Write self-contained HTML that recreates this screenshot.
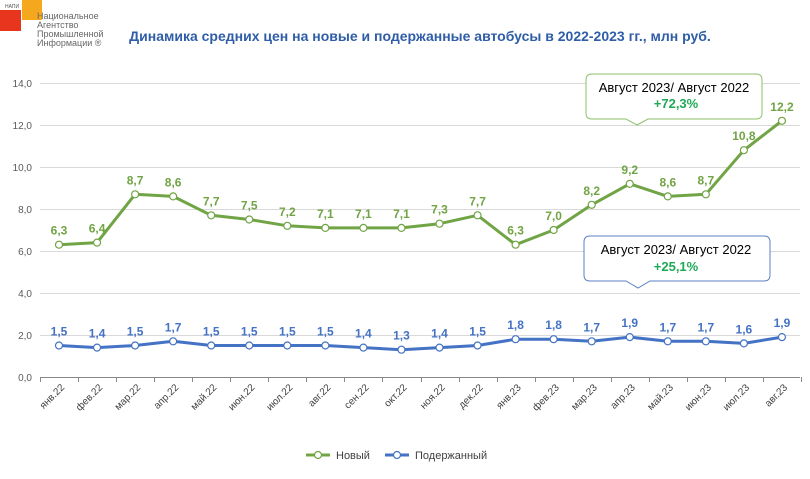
<!DOCTYPE html>
<html><head><meta charset="utf-8"><style>
body{margin:0;background:#fff;}
svg{display:block;font-family:"Liberation Sans",Arial,sans-serif;}
</style></head><body>
<svg width="810" height="479" viewBox="0 0 810 479">
<rect x="0" y="0" width="810" height="479" fill="#fff"/>
<!-- logo -->
<rect x="0" y="10" width="21" height="21" fill="#e8361e"/>
<rect x="22" y="0" width="20" height="20" fill="#f5a81d"/>
<text x="5" y="8" font-size="5" fill="#555">НАПИ</text>
<text x="37" y="19" font-size="9" fill="#666">Национальное</text>
<text x="37" y="28" font-size="9" fill="#666">Агентство</text>
<text x="37" y="37" font-size="9" fill="#666">Промышленной</text>
<text x="37" y="46" font-size="9" fill="#666">Информации ®</text>
<text x="420" y="41" font-size="14" font-weight="bold" fill="#2f5da8" text-anchor="middle">Динамика средних цен на новые и подержанные автобусы в 2022-2023 гг., млн руб.</text>
<g stroke="#d9d9d9" stroke-width="1">
<line x1="40" x2="800" y1="83.5" y2="83.5"/><line x1="40" x2="800" y1="125.5" y2="125.5"/>
<line x1="40" x2="800" y1="167.5" y2="167.5"/><line x1="40" x2="800" y1="209.5" y2="209.5"/>
<line x1="40" x2="800" y1="251.5" y2="251.5"/><line x1="40" x2="800" y1="293.5" y2="293.5"/>
<line x1="40" x2="800" y1="335.5" y2="335.5"/>
</g>
<line x1="40" x2="800" y1="377.5" y2="377.5" stroke="#888"/>
<g font-size="10" fill="#595959" text-anchor="end">
<text x="32" y="87">14,0</text><text x="32" y="129">12,0</text><text x="32" y="171">10,0</text>
<text x="32" y="213">8,0</text><text x="32" y="255">6,0</text><text x="32" y="297">4,0</text>
<text x="32" y="339">2,0</text><text x="32" y="381">0,0</text>
</g>
<g id="ticks" stroke="#888"></g>
<g id="xl" font-size="10" fill="#404040" text-anchor="end"></g>
<polyline id="pn" fill="none" stroke="#70a444" stroke-width="3" stroke-linejoin="round"/>
<polyline id="pu" fill="none" stroke="#4472c4" stroke-width="3" stroke-linejoin="round"/>
<g id="mk"></g>
<g id="lb" font-size="12" font-weight="bold" text-anchor="middle"></g>
<!-- callouts -->
<path d="M592,74 H756 Q762,74 762,80 V113 Q762,119 756,119 H648 L637,125 L626,119 H592 Q586,119 586,113 V80 Q586,74 592,74 Z" fill="#fff" stroke="#8cc26a"/>
<text x="674" y="92" font-size="13" fill="#000" text-anchor="middle">Август 2023/ Август 2022</text>
<text x="676" y="108" font-size="13" font-weight="bold" fill="#1eaa55" text-anchor="middle">+72,3%</text>
<path d="M590,236 H764 Q770,236 770,242 V275 Q770,281 764,281 H650 L638,288 L626,281 H590 Q584,281 584,275 V242 Q584,236 590,236 Z" fill="#fff" stroke="#5b80c4"/>
<text x="676" y="254" font-size="13" fill="#000" text-anchor="middle">Август 2023/ Август 2022</text>
<text x="676" y="271" font-size="13" font-weight="bold" fill="#1eaa55" text-anchor="middle">+25,1%</text>
<!-- legend -->
<line x1="306" x2="330" y1="455" y2="455" stroke="#70a444" stroke-width="3"/>
<circle cx="318" cy="455" r="3.5" fill="#fff" stroke="#70a444" stroke-width="1.2"/>
<text x="336" y="459" font-size="11" fill="#404040">Новый</text>
<line x1="385" x2="409" y1="455" y2="455" stroke="#4472c4" stroke-width="3"/>
<circle cx="397" cy="455" r="3.5" fill="#fff" stroke="#4472c4" stroke-width="1.2"/>
<text x="415" y="459" font-size="11" fill="#404040">Подержанный</text>
<script>
var N=[6.3,6.4,8.7,8.6,7.7,7.5,7.2,7.1,7.1,7.1,7.3,7.7,6.3,7.0,8.2,9.2,8.6,8.7,10.8,12.2];
var U=[1.5,1.4,1.5,1.7,1.5,1.5,1.5,1.5,1.4,1.3,1.4,1.5,1.8,1.8,1.7,1.9,1.7,1.7,1.6,1.9];
var L=["янв.22","фев.22","мар.22","апр.22","май.22","июн.22","июл.22","авг.22","сен.22","окт.22","ноя.22","дек.22","янв.23","фев.23","мар.23","апр.23","май.23","июн.23","июл.23","авг.23"];
var ns="http://www.w3.org/2000/svg";
function X(i){return 59+i*38.05;} function Y(v){return 377-21*v;}
function el(t,a,p,txt){var e=document.createElementNS(ns,t);for(var k in a)e.setAttribute(k,a[k]);if(txt)e.textContent=txt;document.getElementById(p).appendChild(e);}
var pn=[],pu=[];
for(var i=0;i<20;i++){
 pn.push(X(i)+","+Y(N[i]));pu.push(X(i)+","+Y(U[i]));
 el("circle",{cx:X(i),cy:Y(N[i]),r:3.5,fill:"#fff",stroke:"#70a444","stroke-width":1.2},"mk");
 el("circle",{cx:X(i),cy:Y(U[i]),r:3.5,fill:"#fff",stroke:"#4472c4","stroke-width":1.2},"mk");
 el("text",{x:X(i),y:Y(N[i])-10,fill:"#70a444"},"lb",N[i].toFixed(1).replace(".",","));
 el("text",{x:X(i),y:Y(U[i])-10,fill:"#4472c4"},"lb",U[i].toFixed(1).replace(".",","));
 el("text",{x:X(i)+6,y:388,transform:"rotate(-45 "+(X(i)+6)+" 388)"},"xl",L[i]);
}
for(var j=0;j<=20;j++){var tx=Math.round(40+j*38.05)+0.5;el("line",{x1:tx,x2:tx,y1:377,y2:382},"ticks");}
document.getElementById("pn").setAttribute("points",pn.join(" "));
document.getElementById("pu").setAttribute("points",pu.join(" "));
</script>
</svg>
</body></html>
